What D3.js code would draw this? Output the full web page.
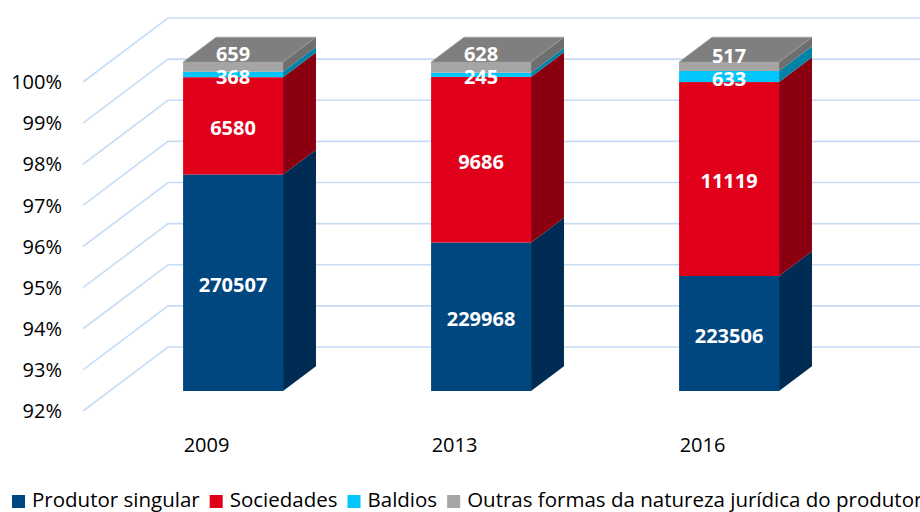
<!DOCTYPE html>
<html>
<head>
<meta charset="utf-8">
<script src="https://cdn.jsdelivr.net/npm/d3@7"></script>
<style>
  body { margin: 0; background: #fff; }
  svg { display: block; font-family: "Open Sans", "Noto Sans", sans-serif; }
</style>
</head>
<body>
<svg width="920" height="512"></svg>
<script>
var years = ["2009", "2013", "2016"];
var produtor = [270507, 229968, 223506];
var sociedades = [6580, 9686, 11119];
var baldios = [368, 245, 633];
var outras = [659, 628, 517];
var seriesNames = ["Produtor singular", "Sociedades", "Baldios", "Outras formas da natureza jurídica do produtor"];
var yTicks = [0.92, 0.93, 0.94, 0.95, 0.96, 0.97, 0.98, 0.99, 1.00];

var front = ["#00467f", "#e0001a", "#00c6fb", "#a5a5a5"];
var side = ["#002b52", "#8b0010", "#0083a6", "#6e6e6e"];
var topCol = "#7f7f7f";

var svg = d3.select("svg");

// 3d depth of the wall and of the bars
var DX = 85, DY = -64;
var t0 = 0.3125, t1 = 0.70;

var y = d3.scaleLinear().domain([0.92, 1]).range([411, 82]);
var x = d3.scaleBand().domain(years).range([82.5, 826.5])
  .paddingInner(0.597).paddingOuter(0.2985);

var rows = years.map(function (yr, i) {
  return { year: yr, a: produtor[i], b: sociedades[i], c: baldios[i], d: outras[i] };
});
var stack = d3.stack().keys(["a", "b", "c", "d"]).offset(d3.stackOffsetExpand);
var series = stack(rows);

// gridlines: side wall + back wall
var grid = svg.append("g");
yTicks.forEach(function (v) {
  var y0 = y(v);
  grid.append("polyline")
    .attr("points", [[83, y0], [83 + DX, y0 + DY], [930, y0 + DY]].join(" "))
    .attr("fill", "none")
    .attr("stroke", "#c7ddf5")
    .attr("stroke-width", 1.6);
});

// y labels
svg.append("g").selectAll("text")
  .data(yTicks)
  .enter().append("text")
  .attr("x", 62)
  .attr("y", function (d) { return y(d); })
  .attr("dy", "0.36em")
  .attr("text-anchor", "end")
  .attr("font-size", 20)
  .attr("fill", "#000")
  .text(function (d) { return Math.round(d * 100) + "%"; });

// bars
var bw = x.bandwidth();
var fdx = DX * t0, fdy = DY * t0;
var bdx = DX * (t1 - t0), bdy = DY * (t1 - t0);
var bars = svg.append("g");

years.forEach(function (yr, i) {
  var xl = x(yr) + fdx, xr = xl + bw;
  series.forEach(function (s, k) {
    var yb = y(Math.max(s[i][0], 0.92)) + fdy;
    var yt = y(s[i][1]) + fdy;
    bars.append("polygon")
      .attr("points", [[xr, yb], [xr, yt], [xr + bdx, yt + bdy], [xr + bdx, yb + bdy]].join(" "))
      .attr("fill", side[k]);
    bars.append("rect")
      .attr("x", xl).attr("y", yt)
      .attr("width", bw).attr("height", yb - yt)
      .attr("fill", front[k]);
    if (k === series.length - 1) {
      bars.append("polygon")
        .attr("points", [[xl, yt], [xr, yt], [xr + bdx, yt + bdy], [xl + bdx, yt + bdy]].join(" "))
        .attr("fill", topCol)
        .attr("stroke", "#a0a0a0")
        .attr("stroke-width", 0.6);
    }
  });

  // data labels, pushed apart when they would overlap
  var prev = null;
  var vals = [produtor[i], sociedades[i], baldios[i], outras[i]];
  series.forEach(function (s, k) {
    var c = (y(Math.max(s[i][0], 0.92)) + y(s[i][1])) / 2 + fdy + 2;
    if (prev !== null) c = Math.min(c, prev - 23);
    prev = c;
    bars.append("text")
      .attr("x", xl + bw / 2)
      .attr("y", c)
      .attr("dy", "0.36em")
      .attr("text-anchor", "middle")
      .attr("font-size", 20)
      .attr("font-weight", "bold")
      .attr("fill", "#fff")
      .text(vals[k]);
  });
});

// category labels
svg.append("g").selectAll("text")
  .data(years)
  .enter().append("text")
  .attr("x", function (d) { return x(d) + bw / 2; })
  .attr("y", 452)
  .attr("text-anchor", "middle")
  .attr("font-size", 20)
  .attr("fill", "#000")
  .text(function (d) { return d; });

// legend
var lg = svg.append("g");
var lx = 12;
seriesNames.forEach(function (name, k) {
  lg.append("rect")
    .attr("x", lx).attr("y", 495)
    .attr("width", 13).attr("height", 13)
    .attr("fill", front[k]);
  var t = lg.append("text")
    .attr("x", lx + 20)
    .attr("y", 507)
    .attr("font-size", 20.5)
    .attr("fill", "#000")
    .text(name);
  lx += 20 + t.node().getComputedTextLength() + 10;
});
</script>
</body>
</html>
